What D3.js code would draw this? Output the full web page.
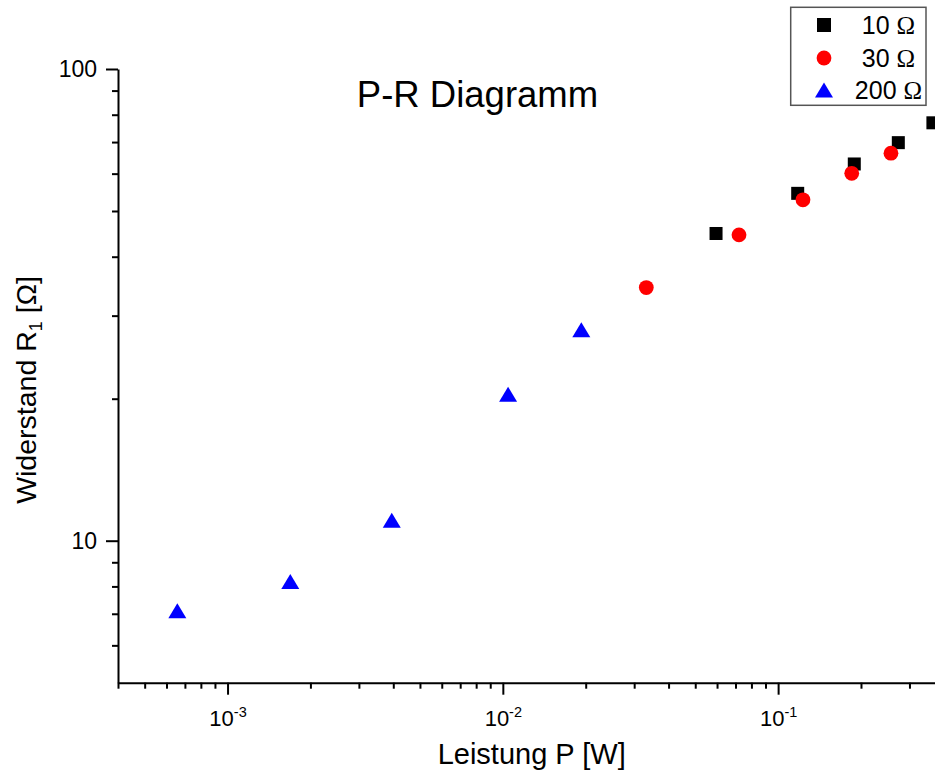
<!DOCTYPE html>
<html>
<head>
<meta charset="utf-8">
<script src="https://cdn.jsdelivr.net/npm/d3@7"></script>
<style>
  body { margin: 0; background: #fff; }
  svg { display: block; font-family: "Liberation Sans", Arial, sans-serif; }
</style>
</head>
<body>
<div id="chart"></div>
<script>
// data (P in W, R1 in Ohm)
const p10 = [0.0595, 0.1178, 0.1891, 0.2733, 0.365];
const r10 = [44.8, 54.5, 62.9, 69.8, 76.9];
const p30 = [0.0332, 0.0721, 0.1231, 0.1851, 0.257];
const r30 = [34.4, 44.5, 52.8, 60.1, 66.3];
const p200 = [0.000657, 0.00169, 0.00395, 0.01045, 0.01928];
const r200 = [7.10, 8.19, 11.05, 20.44, 28.0];

const seriesNames = ["10", "30", "200"];

const xMajor = [1e-3, 1e-2, 1e-1];
const xExp = ["-3", "-2", "-1"];
const xMinor = [4e-4, 5e-4, 6e-4, 7e-4, 8e-4, 9e-4,
  2e-3, 3e-3, 4e-3, 5e-3, 6e-3, 7e-3, 8e-3, 9e-3,
  2e-2, 3e-2, 4e-2, 5e-2, 6e-2, 7e-2, 8e-2, 9e-2,
  2e-1, 3e-1, 4e-1, 5e-1];
const yMajor = [10, 100];
const yLabels = ["10", "100"];
const yMinor = [6, 7, 8, 9, 20, 30, 40, 50, 60, 70, 80, 90];

const width = 935, height = 780;

const svg = d3.select("#chart").append("svg")
  .attr("width", width)
  .attr("height", height);

// log scales, x runs off the right edge like in the original
const x = d3.scaleLog().domain([4e-4, 1]).range([118, 1053.4]);
const y = d3.scaleLog().domain([5, 100]).range([682.7, 69]);

// x axis: minor then major ticks
svg.append("g")
  .attr("transform", "translate(0," + y(5) + ")")
  .call(d3.axisBottom(x).tickValues(xMinor).tickSize(6).tickSizeOuter(0).tickFormat(""))
  .call(g => g.selectAll("line, path").attr("stroke", "#000").attr("stroke-width", 2));

const xAx = svg.append("g")
  .attr("transform", "translate(0," + y(5) + ")")
  .call(d3.axisBottom(x).tickValues(xMajor).tickSize(12).tickSizeOuter(0).tickPadding(16))
  .call(g => g.select(".domain").remove())
  .call(g => g.selectAll("line").attr("stroke", "#000").attr("stroke-width", 2));

xAx.selectAll("text")
  .attr("font-size", 22)
  .attr("fill", "#000")
  .attr("font-family", "Liberation Sans, Arial, sans-serif")
  .attr("dy", "0.71em")
  .text(null)
  .each(function(d, i) {
    const t = d3.select(this);
    t.append("tspan").text("10");
    t.append("tspan").attr("font-size", 14.5).attr("dy", -9.5).text(xExp[i]);
  });

// y axis
svg.append("g")
  .attr("transform", "translate(" + x(4e-4) + ",0)")
  .call(d3.axisLeft(y).tickValues(yMinor).tickSize(6).tickSizeOuter(0).tickFormat(""))
  .call(g => g.selectAll("line, path").attr("stroke", "#000").attr("stroke-width", 2));

svg.append("g")
  .attr("transform", "translate(" + x(4e-4) + ",0)")
  .call(d3.axisLeft(y).tickValues(yMajor).tickSize(12).tickSizeOuter(0).tickPadding(9)
    .tickFormat((d, i) => yLabels[i]))
  .call(g => g.select(".domain").remove())
  .call(g => g.selectAll("line").attr("stroke", "#000").attr("stroke-width", 2))
  .call(g => g.selectAll("text").attr("font-size", 23).attr("fill", "#000")
    .attr("font-family", "Liberation Sans, Arial, sans-serif"));

// markers
const squares = p10.map((p, i) => ({p: p, r: r10[i]}));
const circles = p30.map((p, i) => ({p: p, r: r30[i]}));
const triangles = p200.map((p, i) => ({p: p, r: r200[i]}));

svg.append("g").selectAll("rect")
  .data(squares)
  .enter().append("rect")
    .attr("x", d => x(d.p) - 6.5)
    .attr("y", d => y(d.r) - 6.5)
    .attr("width", 13)
    .attr("height", 13)
    .attr("fill", "#000");

svg.append("g").selectAll("circle")
  .data(circles)
  .enter().append("circle")
    .attr("cx", d => x(d.p))
    .attr("cy", d => y(d.r))
    .attr("r", 7.4)
    .attr("fill", "#ff0000");

const tri = "M0,-7.5L9,7.5L-9,7.5Z";
svg.append("g").selectAll("path")
  .data(triangles)
  .enter().append("path")
    .attr("d", tri)
    .attr("transform", d => "translate(" + x(d.p) + "," + y(d.r) + ")")
    .attr("fill", "#0000ff");

// title + axis labels
svg.append("text")
  .attr("x", 477.5)
  .attr("y", 107)
  .attr("text-anchor", "middle")
  .attr("font-size", 36.5)
  .text("P-R Diagramm");

svg.append("text")
  .attr("x", 531.7)
  .attr("y", 764)
  .attr("text-anchor", "middle")
  .attr("font-size", 29)
  .text("Leistung P [W]");

const yl = svg.append("text")
  .attr("transform", "translate(35.5,390) rotate(-90)")
  .attr("text-anchor", "middle")
  .attr("font-size", 28.5);
yl.append("tspan").text("Widerstand R");
yl.append("tspan").attr("font-size", 18).attr("dy", 6).text("1");
yl.append("tspan").attr("dy", -6).text(" [Ω]");

// legend
const legend = svg.append("g");
legend.append("rect")
  .attr("x", 790.7).attr("y", 7.3)
  .attr("width", 135.3).attr("height", 98)
  .attr("fill", "#fff")
  .attr("stroke", "#555")
  .attr("stroke-width", 1.5);

const rowY = [25, 58, 90];
legend.append("rect").attr("x", 824 - 7).attr("y", rowY[0] - 7).attr("width", 14).attr("height", 14).attr("fill", "#000");
legend.append("circle").attr("cx", 824).attr("cy", rowY[1]).attr("r", 7.4).attr("fill", "#ff0000");
legend.append("path").attr("d", tri).attr("transform", "translate(824," + rowY[2] + ")").attr("fill", "#0000ff");

seriesNames.forEach((name, i) => {
  const t = legend.append("text")
    .attr("x", 888.5)
    .attr("y", rowY[i] + 9)
    .attr("text-anchor", "middle")
    .attr("font-size", 25);
  t.append("tspan").text(name + " ");
  t.append("tspan").attr("font-family", "Liberation Serif, serif").text("Ω");
});
</script>
</body>
</html>
